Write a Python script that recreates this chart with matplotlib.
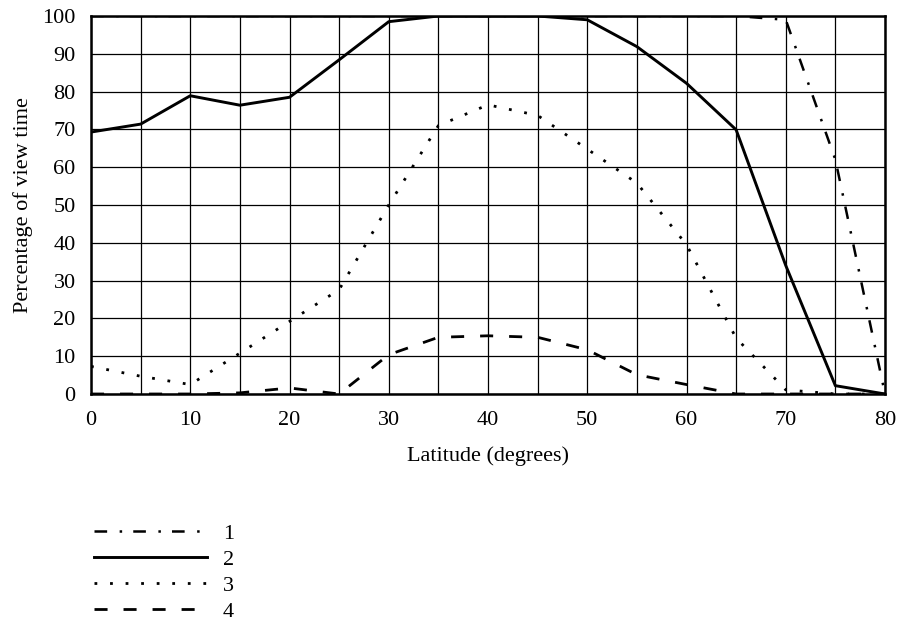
import matplotlib
matplotlib.use("Agg")
import matplotlib.pyplot as plt

plt.rcParams["font.family"] = ["Liberation Serif", "DejaVu Serif"]
plt.rcParams["lines.scale_dashes"] = False

# latitude (degrees)
latitude = [0, 5, 10, 15, 20, 25, 30, 35, 40, 45, 50, 55, 60, 65, 70, 75, 80]

# percentage of view time for each curve
curve1 = [100, 100, 100, 100, 100, 100, 100, 100, 100, 100, 100, 100, 100, 100, 99, 62, 0]
curve2 = [69.3, 71.4, 78.9, 76.4, 78.5, 88.4, 98.5, 100, 100, 100, 99, 91.9, 82.2, 69.9, 34, 2.2, 0]
curve3 = [7.3, 4.7, 2.5, 10.8, 19.2, 27.6, 50, 71, 76.5, 73.7, 64.8, 55.8, 39.5, 14.8, 1.1, 0, 0]
curve4 = [0, 0, 0, 0.3, 1.6, 0, 10.4, 15, 15.4, 15, 11.7, 5.1, 2.5, 0, 0, 0, 0]

labels = ["1", "2", "3", "4"]

fig = plt.figure(figsize=(8.97, 6.28), dpi=100)
ax = fig.add_axes([91 / 897, 1 - 394 / 628, (885 - 91) / 897, (394 - 16) / 628])

ax.plot(latitude, curve1, color="black", lw=1.8, label=labels[0],
        linestyle=(0, (9.1, 9.0, 1.8, 8.0)))
ax.plot(latitude, curve2, color="black", lw=2.1, label=labels[1], linestyle="-")
ax.plot(latitude, curve3, color="black", lw=2.0, label=labels[2],
        linestyle=(0, (2.0, 9.2)))
ax.plot(latitude, curve4, color="black", lw=2.0, label=labels[3],
        linestyle=(0, (9.4, 11.5)))

ax.set_xlim(0, 80)
ax.set_ylim(0, 100)
ax.set_xticks(range(0, 81, 10))
ax.set_xticks(range(0, 81, 5), minor=True)
ax.set_yticks(range(0, 101, 10))
ax.grid(True, which="both", color="black", lw=0.9)
ax.set_axisbelow(True)
ax.tick_params(which="both", length=0, labelsize=16)
ax.tick_params(axis="y", pad=11)
ax.tick_params(axis="x", pad=12)
for s in ax.spines.values():
    s.set_linewidth(1.8)

ax.set_xlabel("Latitude (degrees)", fontsize=16, labelpad=12)
ax.set_ylabel("Percentage of view time", fontsize=16, labelpad=7)

fig.legend(loc="upper left", bbox_to_anchor=(94 / 897, 1 - 523 / 628),
           frameon=False, fontsize=16, handlelength=5.1, handletextpad=0.7,
           labelspacing=0.25, borderpad=0, borderaxespad=0)

fig.savefig("out.png", dpi=100)
